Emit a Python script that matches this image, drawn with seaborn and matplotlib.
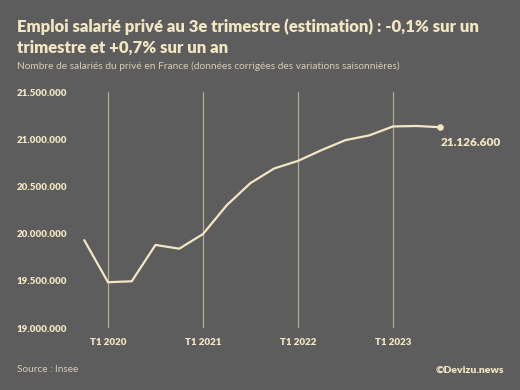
import matplotlib
matplotlib.use("Agg")

import pandas as pd
import matplotlib.pyplot as plt
import seaborn as sns

# Quarterly private employment (T4 2019 -> T3 2023)
quarters = ["T4 2019", "T1 2020", "T2 2020", "T3 2020", "T4 2020",
            "T1 2021", "T2 2021", "T3 2021", "T4 2021",
            "T1 2022", "T2 2022", "T3 2022", "T4 2022",
            "T1 2023", "T2 2023", "T3 2023"]
salaries = [19930000, 19485000, 19495000, 19880000, 19840000,
            19995000, 20300000, 20535000, 20690000,
            20770000, 20885000, 20990000, 21040000,
            21135000, 21140000, 21126600]
year_ticks = ["T1 2020", "T1 2021", "T1 2022", "T1 2023"]
y_ticks = [19000000, 19500000, 20000000, 20500000, 21000000, 21500000]

df = pd.DataFrame({"quarter": quarters, "salaries": salaries})
df["idx"] = range(len(df))

BG = "#5d5d5d"
CREAM = "#f3e6c3"
GRID = "#b3aa92"

sns.set_theme(style="white", rc={"axes.facecolor": BG, "figure.facecolor": BG})
plt.rcParams["font.family"] = ["Lato", "DejaVu Sans"]

fig = plt.figure(figsize=(5.2, 3.9), dpi=100)
ax = fig.add_axes([72.4 / 520, 62 / 390, (476 - 72.4) / 520, 236 / 390])

# vertical year lines
for q in year_ticks:
    ax.axvline(quarters.index(q), color=GRID, lw=0.9, zorder=1)

sns.lineplot(data=df, x="idx", y="salaries", ax=ax, color=CREAM, lw=1.6, zorder=3)
last = df.iloc[-1]
ax.scatter([last["idx"]], [last["salaries"]], s=14, color=CREAM, zorder=4)
ax.annotate(f"{int(last['salaries']):,}".replace(",", "."),
            (last["idx"], last["salaries"]), xytext=(0, -7), textcoords="offset points",
            ha="left", va="top", color=CREAM, fontsize=8.5, fontweight="heavy")

ax.set_xlim(-0.5, 16.5)
ax.set_ylim(19000000, 21500000)
ax.set_xticks([quarters.index(q) for q in year_ticks])
ax.set_xticklabels(year_ticks)
ax.set_yticks(y_ticks)
ax.set_yticklabels([f"{v:,}".replace(",", ".") for v in y_ticks])
ax.tick_params(axis="both", length=0, colors=CREAM, labelsize=7)
ax.tick_params(axis="x", pad=7)
ax.tick_params(axis="y", pad=4)
for lab in ax.get_xticklabels() + ax.get_yticklabels():
    lab.set_fontweight("heavy")
ax.set_xlabel("")
ax.set_ylabel("")
sns.despine(ax=ax, left=True, bottom=True)

fig.text(17 / 520, 1 - 27 / 390, "Emploi salarié privé au 3e trimestre (estimation) : -0,1% sur un",
         color=CREAM, fontsize=12, fontweight="heavy", va="center", ha="left")
fig.text(17 / 520, 1 - 48 / 390, "trimestre et +0,7% sur un an",
         color=CREAM, fontsize=12, fontweight="heavy", va="center", ha="left")
fig.text(17 / 520, 1 - 66 / 390,
         "Nombre de salariés du privé en France (données corrigées des variations saisonnières)",
         color="#d6ceb8", fontsize=7.3, va="center", ha="left")
fig.text(17 / 520, 1 - 370 / 390, "Source : Insee", color="#d6ceb8", fontsize=7.2, va="center", ha="left")
fig.text(504 / 520, 1 - 370 / 390, "©Devizu.news", color=CREAM, fontsize=7.5,
         fontweight="heavy", va="center", ha="right")

fig.savefig("out.png", dpi=100, facecolor=BG)
